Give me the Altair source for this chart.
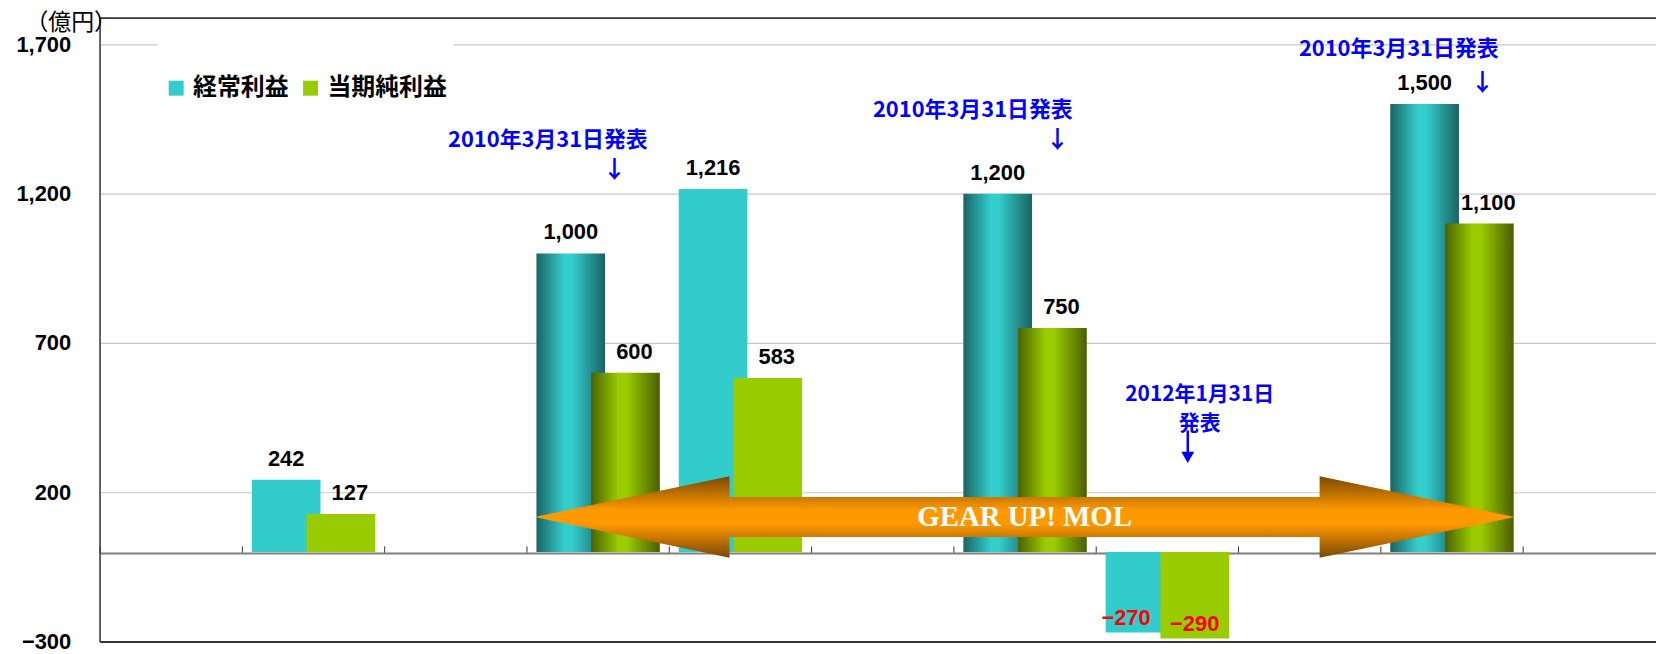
import altair as alt
import pandas as pd

# ---- data ----
categories = ["gap0", "2009年度実績", "gap1", "2010年度計画", "2010年度実績", "gap2",
              "2011年度計画", "2011年度見通し", "gap3", "2012年度計画", "gap4"]
series_names = ["経常利益", "当期純利益"]
ordinary_profit = [None, 242, None, 1000, 1216, None, 1200, -270, None, 1500, None]
net_profit = [None, 127, None, 600, 583, None, 750, -290, None, 1100, None]
kind = [None, "実績", None, "計画", "実績", None, "計画", "見通し", None, "計画", None]
y_ticks = [-300, 200, 700, 1200, 1700]
y_top = 1790

ann_cat = ["2010年度計画", "2011年度計画", "2012年度計画"]
ann_text = ["2010年3月31日発表", "2010年3月31日発表", "2010年3月31日発表"]
ann_text_value = [1380, 1480, 1683]
ann_arrow_value = [1275, 1375, 1568]

ann2_cat = "2011年度見通し"
ann2_text = "2012年1月31日\n発表"
ann2_text_value = 525
ann2_arrow_from = 407
ann2_arrow_to = 330

gear_cat = "2011年度計画"
gear_value = 117
gear_label = "GEAR UP! MOL"

rows = []
for c, o, n, k in zip(categories, ordinary_profit, net_profit, kind):
    if o is not None:
        rows.append({"cat": c, "series": series_names[0], "value": o, "kind": k})
    if n is not None:
        rows.append({"cat": c, "series": series_names[1], "value": n, "kind": k})
df = pd.DataFrame(rows)

TEAL = "#33CCCC"
GREEN = "#99CC00"
BAND = 143

x_enc = alt.X(
    "cat:N", sort=categories,
    scale=alt.Scale(domain=categories, range=[0, BAND * len(categories)], paddingInner=0, paddingOuter=0),
    axis=alt.Axis(orient="top", offset=-538, labels=False, title=None, domainColor="#7F7F7F",
                  domainWidth=2, tickColor="#333333", tickSize=7, tickWidth=1, tickBand="extent",
                  grid=False),
)
border_test = f"datum.value == {y_top} || datum.value == {y_ticks[0]}"
y_enc = alt.Y(
    "value:Q",
    scale=alt.Scale(domain=[y_ticks[0], y_top], nice=False, zero=False),
    axis=alt.Axis(values=y_ticks + [y_top],
                  labelExpr=f"datum.value > {y_ticks[-1]} ? '' : format(datum.value, ',d')",
                  grid=True,
                  gridColor={"condition": {"test": border_test, "value": "#333333"}, "value": "#C8C8C8"},
                  gridWidth={"condition": {"test": border_test, "value": 1.8}, "value": 1.2},
                  domainColor="#333333", domainWidth=1.5, ticks=False, labelPadding=29,
                  labelFont="Liberation Sans", labelFontSize=22, labelFontWeight="bold", labelColor="black",
                  title="（億円）", titleAngle=0, titleX=-29, titleY=5, titleAlign="center",
                  titleBaseline="middle", titleFont="Noto Sans CJK JP", titleFontSize=23,
                  titleFontWeight="normal", titleColor="black"),
)

color_enc = alt.Color(
    "series:N",
    scale=alt.Scale(domain=series_names, range=[TEAL, GREEN]),
    legend=alt.Legend(orient="none", legendX=58, legendY=22, direction="horizontal", title="　",
                      titleFontSize=20, titlePadding=10, fillColor="white", padding=7,
                      symbolType="square", symbolSize=225, symbolStrokeWidth=0,
                      labelFontSize=24, labelFont="Noto Sans CJK JP", labelFontWeight="bold",
                      labelColor="black", columnPadding=10, labelOffset=5),
)


def grad(dark, light, dark2):
    return alt.LinearGradient(
        gradient="linear", x1=0, x2=1, y1=0, y2=0,
        stops=[alt.GradientStop(offset=0, color=dark),
               alt.GradientStop(offset=0.4, color=light),
               alt.GradientStop(offset=0.52, color=light),
               alt.GradientStop(offset=1, color=dark2)])


teal_grad = grad("#1A6464", "#34CDCD", "#1A6262")
green_grad = grad("#4A6200", "#9ACC00", "#4A5E00")

base = alt.Chart(df)
OFF_T, OFF_G, BW = -27, 28, 69

teal_flat = base.mark_bar(width=BW, xOffset=OFF_T).encode(x=x_enc, y=y_enc, color=color_enc).transform_filter(
    (alt.datum.series == series_names[0]) & (alt.datum.kind != "計画"))
teal_cyl = base.mark_bar(width=BW, xOffset=OFF_T, color=teal_grad).encode(x=x_enc, y=y_enc).transform_filter(
    (alt.datum.series == series_names[0]) & (alt.datum.kind == "計画"))
green_flat = base.mark_bar(width=BW, xOffset=OFF_G).encode(x=x_enc, y=y_enc, color=color_enc).transform_filter(
    (alt.datum.series == series_names[1]) & (alt.datum.kind != "計画"))
green_cyl = base.mark_bar(width=BW, xOffset=OFF_G, color=green_grad).encode(x=x_enc, y=y_enc).transform_filter(
    (alt.datum.series == series_names[1]) & (alt.datum.kind == "計画"))


def labels(series, pos, xoff, dy, color):
    cond = alt.datum.value >= 0 if pos else alt.datum.value < 0
    return base.mark_text(xOffset=xoff, dy=dy, baseline="alphabetic", align="center",
                          font="Liberation Sans", fontSize=22, fontWeight="bold", color=color).encode(
        x=x_enc, y=y_enc, text=alt.Text("value:Q", format=",d")).transform_filter(
        (alt.datum.series == series) & cond)


lab_layers = [
    labels(series_names[0], True, OFF_T, -14, "black"),
    labels(series_names[1], True, OFF_G + 9, -14, "black"),
    labels(series_names[0], False, OFF_T - 14, -8, "#FF0000"),
    labels(series_names[1], False, OFF_G, -8, "#FF0000"),
]

# annotations
ann_text_dx = [-50, -52, -53]
ann_arrow_dx = [17, 33, 31]
ann_layers = []
for c, t, tv, av, tdx, adx in zip(ann_cat, ann_text, ann_text_value, ann_arrow_value, ann_text_dx, ann_arrow_dx):
    d = pd.DataFrame({"cat": [c], "value": [tv], "label": [t]})
    ann_layers.append(alt.Chart(d).mark_text(xOffset=tdx, baseline="middle", align="center",
                                              font="Noto Sans CJK JP", fontSize=22, fontWeight="bold",
                                              color="#0000FF").encode(x=x_enc, y=y_enc, text="label:N"))
    d2 = pd.DataFrame({"cat": [c], "value": [av], "label": ["↓"]})
    ann_layers.append(alt.Chart(d2).mark_text(xOffset=adx, baseline="middle", align="center",
                                               font="Noto Sans CJK JP", fontSize=24, fontWeight="bold",
                                               color="#0000FF").encode(x=x_enc, y=y_enc, text="label:N"))

d4 = pd.DataFrame({"cat": [ann2_cat], "value": [ann2_text_value], "label": [ann2_text]})
ann_layers.append(alt.Chart(d4).mark_text(xOffset=33, baseline="middle", align="center", lineBreak="\n",
                                          lineHeight=29, font="Noto Sans CJK JP", fontSize=21,
                                          fontWeight="bold", color="#0000FF").encode(
    x=x_enc, y=y_enc, text="label:N"))
d5 = pd.DataFrame({"cat": [ann2_cat], "value": [ann2_arrow_from], "value2": [ann2_arrow_to]})
ann_layers.append(alt.Chart(d5).mark_rule(xOffset=21, color="#0000FF", strokeWidth=2.5).encode(
    x=x_enc, y=y_enc, y2="value2:Q"))
d6 = pd.DataFrame({"cat": [ann2_cat], "value": [ann2_arrow_to]})
ann_layers.append(alt.Chart(d6).mark_point(xOffset=21, yOffset=4, shape="triangle-down", size=170, filled=True,
                                           color="#0000FF", opacity=1, strokeWidth=0).encode(x=x_enc, y=y_enc))

# big double arrow
gear_df = pd.DataFrame({"cat": [gear_cat], "value": [gear_value], "label": [gear_label]})
arrow_path = ("M-1,0 L-0.602,-0.0832 L-0.602,-0.0406 L0.602,-0.0406 L0.602,-0.0832 L1,0 "
              "L0.602,0.0832 L0.602,0.0406 L-0.602,0.0406 L-0.602,0.0832 Z")
orange_grad = alt.LinearGradient(
    gradient="linear", x1=0, x2=0, y1=0, y2=1,
    stops=[alt.GradientStop(offset=0, color="#7A4800"),
           alt.GradientStop(offset=0.42, color="#FF9900"),
           alt.GradientStop(offset=0.58, color="#FF9900"),
           alt.GradientStop(offset=1, color="#7A4800")])
gear_arrow = alt.Chart(gear_df).mark_point(shape=arrow_path, size=985 * 985, filled=True, fill=orange_grad,
                                           opacity=1, strokeWidth=0).encode(x=x_enc, y=y_enc)
gear_text = alt.Chart(gear_df).mark_text(baseline="middle", align="center", font="Liberation Serif",
                                         fontSize=29, fontWeight="bold", color="white").encode(
    x=x_enc, y=y_enc, text="label:N")

chart = alt.layer(teal_flat, teal_cyl, green_flat, green_cyl, *lab_layers, *ann_layers,
                  gear_arrow, gear_text).properties(
    width=1564, height=627,
    autosize=alt.AutoSizeParams(type="none"),
    padding={"left": 92, "top": 8, "right": 0, "bottom": 14},
).configure_view(stroke=None)

chart.save("out.html", embed_options={"renderer": "svg", "actions": False})
